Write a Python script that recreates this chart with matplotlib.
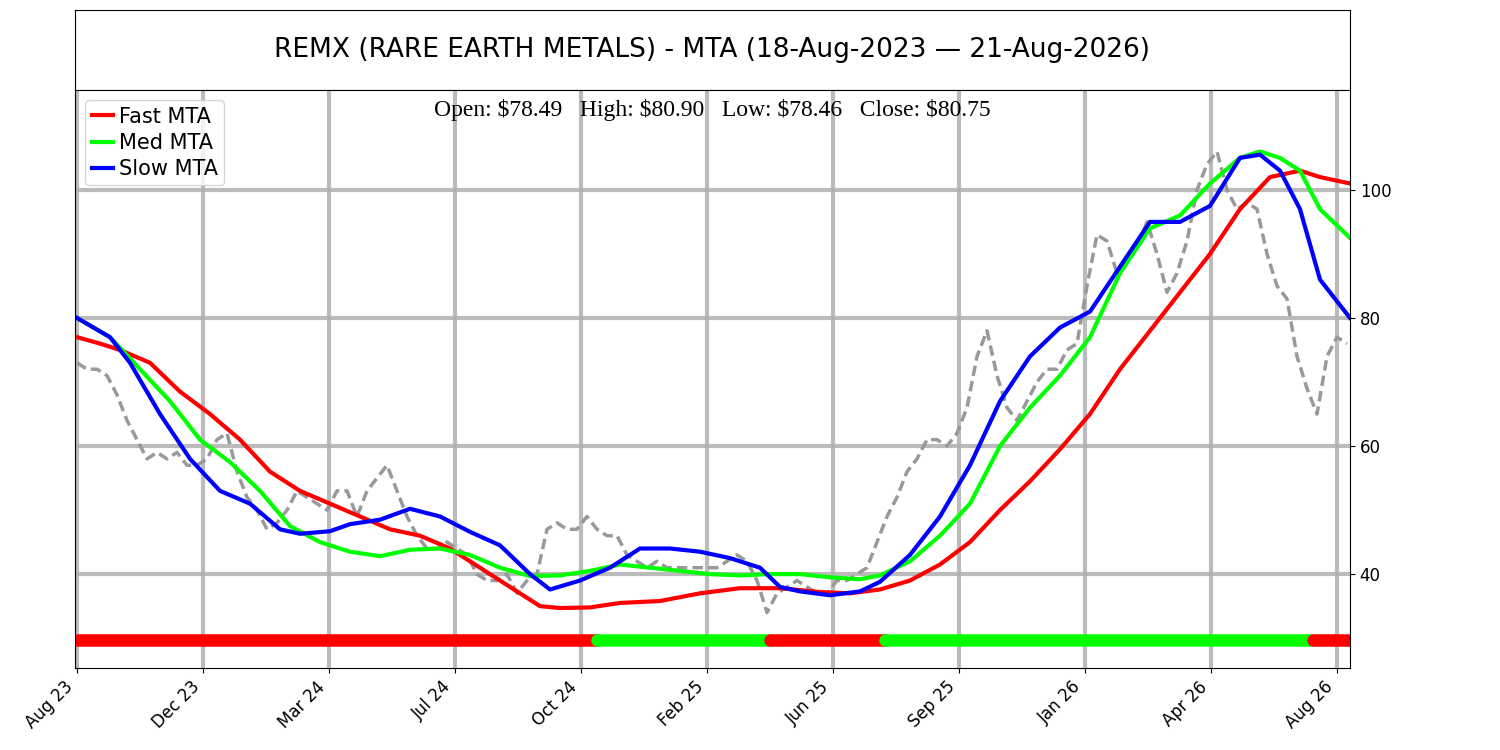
import numpy as np
import matplotlib.pyplot as plt

# price, sampled every 10 index units
price = [73, 72, 72, 71, 68, 64, 61, 58, 59, 58, 59, 57, 57, 58, 61, 62, 56, 52, 50, 47,
         48, 50, 53, 52, 51, 50, 53, 53, 49, 53, 55, 57, 53, 49, 46, 44, 44, 45, 44, 43,
         40, 39, 39, 40, 37, 39, 40, 47, 48, 47, 47, 49, 47, 46, 46, 43, 42, 41, 42, 41,
         41, 41, 41, 41, 41, 42, 43, 42, 39, 34, 37, 38, 39, 38, 37, 37, 39, 39, 40, 41,
         45, 49, 52, 56, 58, 61, 61, 60, 62, 66, 74, 78, 71, 66, 64, 67, 70, 72, 72, 75,
         76, 85, 93, 92, 87, 89, 91, 95, 90, 84, 87, 92, 100, 104, 106, 100, 97, 98, 97, 90,
         85, 83, 74, 69, 65, 74, 77, 76]

fast_x = [0, 23, 43, 73, 103, 133, 163, 193, 223, 253, 283, 313, 343, 373, 403, 433, 463, 483,
          513, 543, 583, 623, 663, 703, 743, 773, 803, 833, 863, 893, 923, 953, 983, 1013,
          1043, 1073, 1103, 1133, 1163, 1193, 1223, 1243, 1273]
fast_y = [77, 76, 75, 73, 68.5, 65, 61, 56, 53, 51, 49, 47, 46, 44, 41, 38, 35, 34.7,
          34.8, 35.5, 35.8, 37, 37.8, 37.8, 37.2, 37, 37.6, 39, 41.5, 45, 50, 54.5, 59.5, 65,
          72, 78, 84, 90, 97, 102, 103, 102, 101]

med_x = [0, 33, 63, 93, 123, 153, 183, 213, 243, 273, 303, 333, 363, 393, 423, 453, 483, 513,
         543, 573, 603, 633, 663, 693, 723, 753, 783, 803, 833, 863, 893, 923, 953, 983, 1013,
         1043, 1073, 1103, 1133, 1163, 1183, 1203, 1223, 1243, 1273]
med_y = [80, 77, 72, 67, 61, 57.5, 53, 47.5, 45, 43.5, 42.8, 43.8, 44, 43, 41, 39.7, 39.8,
         40.5, 41.5, 41, 40.5, 40, 39.8, 40, 40, 39.5, 39.2, 39.8, 42, 46, 51, 60, 66, 71, 77,
         87, 94, 96, 101, 105, 106, 105, 103, 97, 92.5]

slow_x = [0, 33, 53, 83, 113, 143, 173, 203, 223, 253, 273, 303, 333, 363, 393, 423, 453, 473,
          503, 533, 563, 593, 623, 653, 683, 703, 723, 753, 783, 803, 833, 863, 893, 923, 953,
          983, 1013, 1043, 1073, 1103, 1133, 1163, 1183, 1203, 1223, 1243, 1273]
slow_y = [80, 77, 73, 65, 58, 53, 51, 47, 46.3, 46.7, 47.8, 48.5, 50.2, 49, 46.6, 44.5, 40,
          37.6, 39, 41, 44, 44, 43.5, 42.5, 41, 38, 37.3, 36.7, 37.3, 38.8, 43, 49, 57, 67, 74,
          78.5, 81, 88, 95, 95, 97.5, 105, 105.5, 103, 97, 86, 80]

# trend signal segments (start, end, colour)
signal = [(0, 520, 'red'), (520, 693, 'lime'), (693, 808, 'red'),
          (808, 1236, 'lime'), (1236, 1273, 'red')]

tick_labels = ['Aug 23', 'Dec 23', 'Mar 24', 'Jul 24', 'Oct 24', 'Feb 25',
               'Jun 25', 'Sep 25', 'Jan 26', 'Apr 26', 'Aug 26']

fig = plt.figure(figsize=(15, 7.5), dpi=100)
tax = fig.add_axes([0.05, 0.88, 0.85, 0.107])
tax.set_xticks([]); tax.set_yticks([])
tax.text(0.5, 0.5, 'REMX (RARE EARTH METALS) - MTA (18-Aug-2023 \u2014 21-Aug-2026)',
         ha='center', va='center', fontsize=19)

ax = fig.add_axes([0.05, 0.109, 0.85, 0.771])
px = np.arange(len(price)) * 10
ax.plot(px, price, color='#999999', lw=2.5, ls=(0, (3, 1.5)))
ax.plot(fast_x, fast_y, color='red', lw=3, label='Fast MTA')
ax.plot(med_x, med_y, color='lime', lw=3, label='Med MTA')
ax.plot(slow_x, slow_y, color='blue', lw=3, label='Slow MTA')
for s, e, c in signal:
    ax.plot([s, e], [29.7, 29.7], color=c, lw=9, solid_capstyle='round')

ax.set_xlim(-2, 1273)
ax.set_ylim(25.3, 115.6)
ax.set_xticks(np.arange(len(tick_labels)) * 126)
ax.set_xticklabels(tick_labels, rotation=45, ha='right', fontsize=12)
ax.set_yticks([40, 60, 80, 100])
ax.yaxis.tick_right()
ax.tick_params(labelsize=12)
ax.grid(True, color='#b0b0b0', lw=3, alpha=0.85)
ax.set_axisbelow(True)
ax.legend(loc='upper left', fontsize=15, handlelength=1, handletextpad=0.3,
          borderpad=0.3, labelspacing=0.3)
ax.text(0.5, 0.985, r'Open: \$78.49   High: \$80.90   Low: \$78.46   Close: \$80.75',
        transform=ax.transAxes, ha='center', va='top', fontsize=17,
        family='Liberation Serif')
fig.savefig('out.png')
